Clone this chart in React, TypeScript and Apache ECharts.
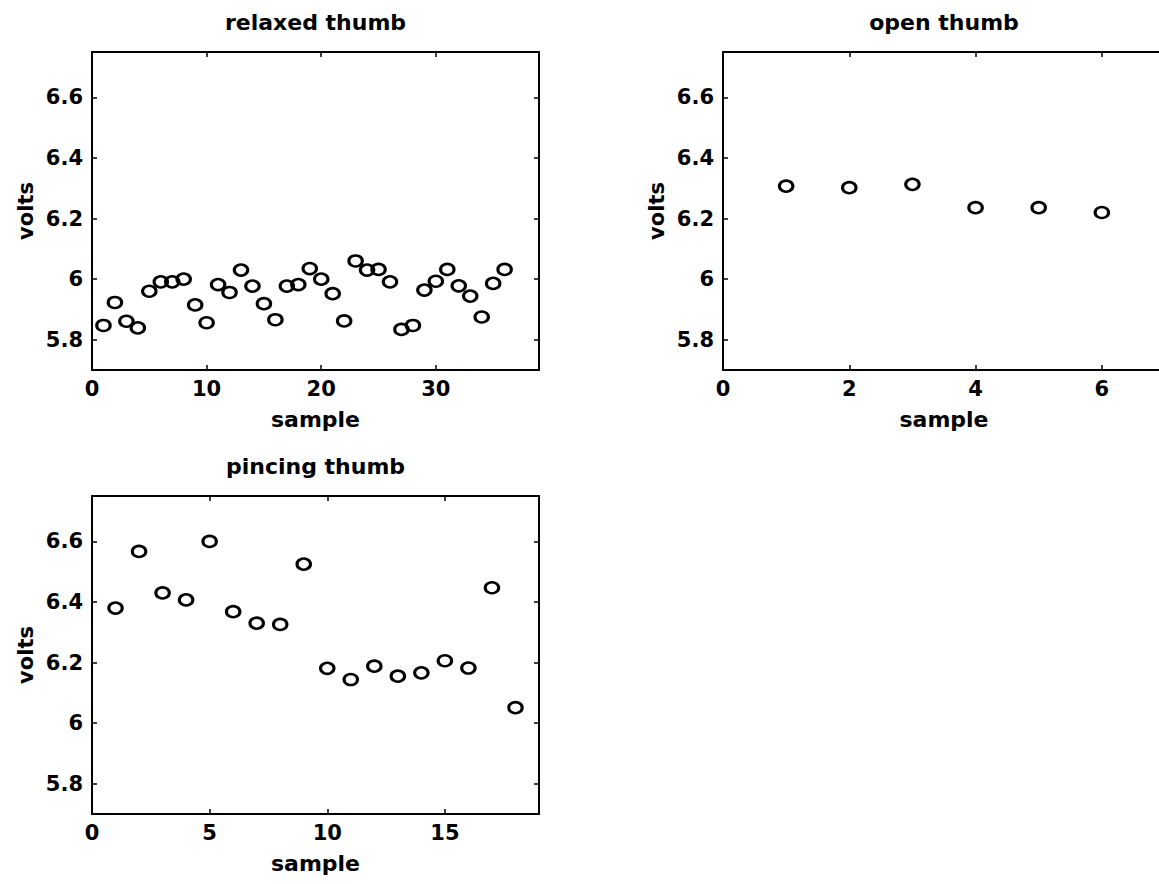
import React, { useEffect, useRef } from "react";
import * as echarts from "echarts";

const titles = ["relaxed thumb", "open thumb", "pincing thumb"];
const xName = "sample";
const yName = "volts";

const relaxedVolts = [
  5.847, 5.923, 5.861, 5.839, 5.96, 5.991, 5.991, 6.0, 5.915, 5.856,
  5.982, 5.956, 6.03, 5.977, 5.919, 5.866, 5.977, 5.982, 6.035, 6.0,
  5.952, 5.862, 6.06, 6.03, 6.032, 5.991, 5.834, 5.847, 5.964, 5.993,
  6.032, 5.978, 5.944, 5.875, 5.986, 6.032,
];
const openVolts = [6.307, 6.302, 6.313, 6.236, 6.236, 6.22];
const pincingVolts = [
  6.38, 6.567, 6.43, 6.407, 6.6, 6.368, 6.33, 6.326, 6.525, 6.181,
  6.144, 6.188, 6.155, 6.166, 6.206, 6.182, 6.447, 6.051,
];

const yTicks = [5.8, 6, 6.2, 6.4, 6.6];
const relaxedXTicks = [0, 10, 20, 30];
const openXTicks = [0, 2, 4, 6];
const pincingXTicks = [0, 5, 10, 15];
const yMin = 5.7;
const yMax = 6.75;
const xMaxes = [39, 7, 19];

const FONT = "DejaVu Sans";

const panels = [
  { values: relaxedVolts, xTicks: relaxedXTicks, xMax: xMaxes[0], left: 92, top: 52, width: 447, height: 318 },
  { values: openVolts, xTicks: openXTicks, xMax: xMaxes[1], left: 723, top: 52, width: 442, height: 318 },
  { values: pincingVolts, xTicks: pincingXTicks, xMax: xMaxes[2], left: 92, top: 496, width: 447, height: 318 },
];

const fmt = (v: number) => String(Math.round(v * 10) / 10);

export default function App() {
  const ref = useRef<HTMLDivElement>(null);
  useEffect(() => {
    if (!ref.current) return;
    const chart = echarts.init(ref.current, undefined, { renderer: "svg" });
    const grid: any[] = [];
    const xAxis: any[] = [];
    const yAxis: any[] = [];
    const series: any[] = [];
    const graphic: any[] = [];
    const lineStyle = { color: "#000", width: 2 };
    const tickStyle = { color: "#000", width: 1.5 };
    const labelStyle = { color: "#000", fontFamily: FONT, fontWeight: "bold", fontSize: 21 };

    panels.forEach((p, i) => {
      grid.push({
        left: p.left,
        top: p.top,
        width: p.width,
        height: p.height,
        containLabel: false,
        outerBoundsMode: "none",
      });
      [false, true].forEach((isTop) => {
        xAxis.push({
          type: "value",
          gridIndex: i,
          position: isTop ? "top" : "bottom",
          min: 0,
          max: p.xMax,
          axisLine: { show: true, onZero: false, lineStyle },
          axisTick: { show: true, inside: true, length: 5, lineStyle: tickStyle, customValues: p.xTicks },
          axisLabel: { show: !isTop, margin: 8, ...labelStyle, customValues: p.xTicks, formatter: fmt },
          splitLine: { show: false },
        });
        yAxis.push({
          type: "value",
          gridIndex: i,
          position: isTop ? "right" : "left",
          min: yMin,
          max: yMax,
          axisLine: { show: true, onZero: false, lineStyle },
          axisTick: { show: true, inside: true, length: 5, lineStyle: tickStyle, customValues: yTicks },
          axisLabel: { show: !isTop, margin: 9, ...labelStyle, customValues: yTicks, formatter: fmt },
          splitLine: { show: false },
        });
      });
      series.push({
        type: "scatter",
        xAxisIndex: i * 2,
        yAxisIndex: i * 2,
        symbol: "circle",
        symbolSize: [13.5, 11],
        itemStyle: { color: "rgba(0,0,0,0)", borderColor: "#000", borderWidth: 2.8, opacity: 1 },
        data: p.values.map((v, k) => [k + 1, v]),
      });
      const cx = p.left + p.width / 2;
      graphic.push({
        type: "text",
        x: cx,
        y: p.top - 30,
        style: { text: titles[i], font: `bold 22px "${FONT}"`, fill: "#000", align: "center", verticalAlign: "middle" },
      });
      graphic.push({
        type: "text",
        x: cx,
        y: p.top + p.height + 49,
        style: { text: xName, font: `bold 22px "${FONT}"`, fill: "#000", align: "center", verticalAlign: "middle" },
      });
      graphic.push({
        type: "text",
        x: p.left - 66,
        y: p.top + p.height / 2,
        rotation: Math.PI / 2,
        style: { text: yName, font: `bold 21px "${FONT}"`, fill: "#000", align: "center", verticalAlign: "middle" },
      });
    });

    chart.setOption({
      animation: false,
      backgroundColor: "#fff",
      grid,
      xAxis,
      yAxis,
      series,
      graphic,
    });
    return () => chart.dispose();
  }, []);
  return (
    <div
      ref={ref}
      style={{ position: "fixed", left: 0, top: 0, width: 1159, height: 884, background: "#fff" }}
    />
  );
}
